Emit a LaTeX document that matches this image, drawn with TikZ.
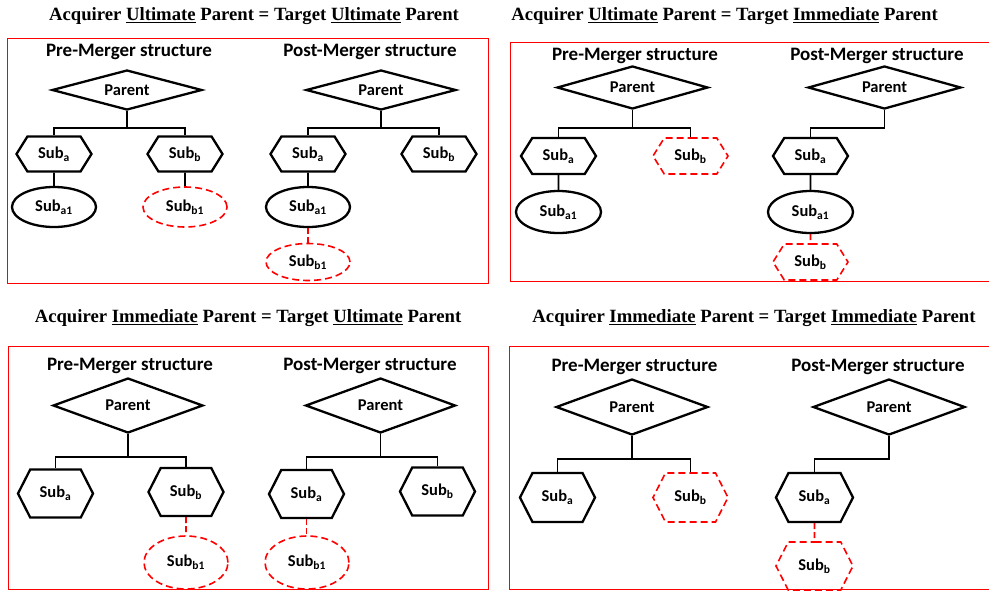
\documentclass[tikz,border=0pt]{standalone}
\usepackage{fontspec}
\setmainfont{Liberation Serif}
\setsansfont{Carlito}
\usetikzlibrary{shapes.geometric, shapes.symbols, positioning}

\newcommand{\ttl}[2]{Acquirer \underline{#1} Parent = Target \underline{#2} Parent}
\newcommand{\subname}[1]{Sub\textsubscript{#1}}

\begin{document}
\begin{tikzpicture}[x=1pt, y=-1pt,
    title/.style={font=\rmfamily\bfseries\fontsize{18.7}{22}\selectfont, inner sep=0pt},
    head/.style={font=\sffamily\bfseries\fontsize{19}{22}\selectfont, inner sep=0pt},
    parent/.style={diamond, draw, line width=2.3pt, inner sep=0pt, aspect=3.5,
        minimum width=150pt, minimum height=40pt,
        font=\sffamily\bfseries\fontsize{16.5}{18}\selectfont},
    subhex/.style={signal, signal to=west and east, signal pointer angle=116,
        draw, line width=2.3pt, inner sep=0pt,
        minimum width=75pt, minimum height=35pt,
        font=\sffamily\bfseries\fontsize{16.5}{18}\selectfont},
    tallhex/.style={subhex, signal pointer angle=126, minimum height=48pt},
    subell/.style={ellipse, draw, line width=2.3pt, inner sep=0pt,
        minimum width=84pt, minimum height=40pt,
        font=\sffamily\bfseries\fontsize{16.5}{18}\selectfont},
    gone/.style={draw=red, line width=1.6pt, dash pattern=on 7pt off 4pt},
    link/.style={line width=1.7pt},
    dlink/.style={red, line width=1.6pt, dash pattern=on 6pt off 3pt},
    frame/.style={draw=red, line width=1pt}]

    \useasboundingbox (0,0) rectangle (989,590);

    % Ultimate = Ultimate
    \node[title] (t1) at (254,16) {\ttl{Ultimate}{Ultimate}};
    \draw[frame] (7,38) rectangle (488,283);
    \node[head] (h1a) at (129,52) {Pre-Merger structure};
    \node[head] (h1b) at (370,52) {Post-Merger structure};
    \node[parent] (p1a) at (127,90) {Parent};
    \node[subhex] (a1a) at (54,154) {\subname{a}};
    \node[subhex] (b1a) at (185,154) {\subname{b}};
    \node[subell] (a11a) at (54,207) {\subname{a1}};
    \node[subell,
          gone] (b11a) at (185,207) {\subname{b1}};
    \node[parent] (p1b) at (381,90) {Parent};
    \node[subhex] (a1b) at (308,154) {\subname{a}};
    \node[subhex] (b1b) at (439,154) {\subname{b}};
    \node[subell] (a11b) at (308,207) {\subname{a1}};
    \node[subell,
          gone,
          minimum height=37pt] (b11b) at (308,262) {\subname{b1}};

    \draw[link] (p1a.south) -- ++(0,17) coordinate (j1a) -| (a1a.north);
    \draw[link] (j1a) -| (b1a.north);
    \draw[link] (a1a) -- (a11a);
    \draw[link] (b1a) -- (b11a);
    \draw[link] (p1b.south) -- ++(0,17) coordinate (j1b) -| (a1b.north);
    \draw[link] (j1b) -| (b1b.north);
    \draw[link] (a1b) -- (a11b);
    \draw[dlink] (a11b) -- (b11b);

    % Ultimate = Immediate
    \node[title] (t2) at (724.5,16) {\ttl{Ultimate}{Immediate}};
    \draw[frame] (995,42) -- (510,42) -- (510,281) -- (995,281);
    \node[head] (h2a) at (635,56) {Pre-Merger structure};
    \node[head] (h2b) at (877,56) {Post-Merger structure};
    \node[parent,
          minimum width=151pt,
          minimum height=43pt] (p2a) at (632.5,87.5) {Parent};
    \node[subhex,
          minimum height=36pt] (a2a) at (558.5,156) {\subname{a}};
    \node[subhex,
          gone,
          minimum height=36pt] (b2a) at (690.5,156) {\subname{b}};
    \node[subell,
          minimum width=85pt,
          minimum height=42pt] (a21a) at (558.5,212) {\subname{a1}};
    \node[parent,
          minimum width=153pt,
          minimum height=43pt] (p2b) at (884.5,87.5) {Parent};
    \node[subhex,
          minimum height=36pt] (a2b) at (810.5,156) {\subname{a}};
    \node[subell,
          minimum width=85pt,
          minimum height=42pt] (a21b) at (810.5,212) {\subname{a1}};
    \node[subhex,
          gone,
          minimum height=36pt] (b2b) at (810.5,262) {\subname{b}};

    \draw[link] (p2a.south) -- ++(0,18) coordinate (j2a) -| (a2a.north);
    \draw[link] (j2a) -| (b2a.north);
    \draw[link] (a2a) -- (a21a);
    \draw[link] (p2b.south) -- ++(0,18) -| (a2b.north);
    \draw[link] (a2b) -- (a21b);
    \draw[dlink] (a21b) -- (b2b);

    % Immediate = Ultimate
    \node[title] (t3) at (248,318) {\ttl{Immediate}{Ultimate}};
    \draw[frame] (8,346) rectangle (488,589);
    \node[head] (h3a) at (130,366) {Pre-Merger structure};
    \node[head] (h3b) at (370,366) {Post-Merger structure};
    \node[parent,
          minimum height=55pt] (p3a) at (128,405.5) {Parent};
    \node[tallhex] (a3a) at (55.5,493.5) {\subname{a}};
    \node[tallhex] (b3a) at (186,492) {\subname{b}};
    \node[subell,
          gone,
          minimum height=53pt] (b31a) at (186,562.5) {\subname{b1}};
    \node[parent,
          minimum height=55pt] (p3b) at (380.5,405.5) {Parent};
    \node[tallhex] (a3b) at (306.5,494) {\subname{a}};
    \node[tallhex] (b3b) at (437.5,491.5) {\subname{b}};
    \node[subell,
          gone,
          minimum height=53pt] (b31b) at (307,562.5) {\subname{b1}};

    \draw[link] (p3a.south) -- ++(0,23) coordinate (j3a) -| (a3a.north);
    \draw[link] (j3a) -| (b3a.north);
    \draw[dlink] (b3a) -- (b31a);
    \draw[link] (p3b.south) -- ++(0,23) coordinate (j3b) -| (a3b.north);
    \draw[link] (j3b) -| (b3b.north);
    \draw[dlink] (a3b.south) -- (a3b.south |- b31b.north);

    % Immediate = Immediate
    \node[title] (t4) at (754,318) {\ttl{Immediate}{Immediate}};
    \draw[frame] (995,346) -- (509,346) -- (509,589) -- (995,589);
    \node[head] (h4a) at (634.5,367) {Pre-Merger structure};
    \node[head] (h4b) at (878,367) {Post-Merger structure};
    \node[parent,
          minimum width=152pt,
          minimum height=56pt] (p4a) at (632,407) {Parent};
    \node[tallhex,
          minimum height=49pt] (a4a) at (557.5,497.5) {\subname{a}};
    \node[tallhex,
          gone,
          minimum height=49pt] (b4a) at (690.5,497.5) {\subname{b}};
    \node[parent,
          minimum width=152pt,
          minimum height=56pt] (p4b) at (889,407) {Parent};
    \node[tallhex,
          minimum width=77pt,
          minimum height=49pt] (a4b) at (814.5,497.5) {\subname{a}};
    \node[tallhex,
          gone,
          minimum width=77pt] (b4b) at (814.5,566) {\subname{b}};

    \draw[link] (p4a.south) -- ++(0,23) coordinate (j4a) -| (a4a.north);
    \draw[link] (j4a) -| (b4a.north);
    \draw[link] (p4b.south) -- ++(0,23) -| (a4b.north);
    \draw[dlink] (a4b) -- (b4b);
\end{tikzpicture}
\end{document}
